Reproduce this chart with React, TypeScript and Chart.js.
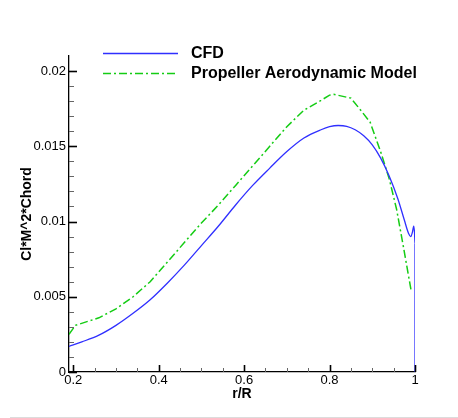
import React, { useEffect, useRef } from 'react';
import { Chart, registerables } from 'chart.js';

Chart.register(...registerables);

// ---- data ----
const seriesNames = ['CFD', 'Propeller Aerodynamic Model'];
const xTitle = 'r/R';
const yTitle = 'Cl*M^2*Chord';

const cfdR = [0.19, 0.22, 0.26, 0.30, 0.34, 0.38, 0.42, 0.46, 0.50, 0.54, 0.58, 0.62, 0.66, 0.70, 0.74, 0.78, 0.80, 0.82, 0.84, 0.86, 0.88, 0.90, 0.92, 0.94, 0.96, 0.975, 0.985, 0.99, 0.994, 0.997, 0.999, 1.0, 1.0];
const cfdVal = [0.0017, 0.0020, 0.00245, 0.0031, 0.0039, 0.0048, 0.0059, 0.0071, 0.0084, 0.0097, 0.0111, 0.0124, 0.01355, 0.01465, 0.01555, 0.0161, 0.0163, 0.01638, 0.01633, 0.0161, 0.0157, 0.0151, 0.0142, 0.0130, 0.0115, 0.0101, 0.0092, 0.0090, 0.0093, 0.0097, 0.0092, 0.0085, 0.0];

const modelR = [0.19, 0.205, 0.26, 0.30, 0.34, 0.38, 0.42, 0.46, 0.50, 0.54, 0.58, 0.62, 0.66, 0.70, 0.74, 0.78, 0.80, 0.81, 0.85, 0.87, 0.895, 0.92, 0.94, 0.957, 0.973, 0.991];
const modelVal = [0.0025, 0.0031, 0.0036, 0.0042, 0.0050, 0.0060, 0.0073, 0.0086, 0.0099, 0.0111, 0.0124, 0.0137, 0.0150, 0.0163, 0.0174, 0.01805, 0.0184, 0.01845, 0.0182, 0.0175, 0.0166, 0.0146, 0.0128, 0.0108, 0.0083, 0.0054];

const xTickValues = [0.2, 0.4, 0.6, 0.8, 1.0];
const xTickLabels = ['0.2', '0.4', '0.6', '0.8', '1'];
const yTickValues = [0, 0.005, 0.01, 0.015, 0.02];
const yTickLabels = ['0', '0.005', '0.01', '0.015', '0.02'];
const xMinorStep = 0.05;
const yMinorStep = 0.001;

const FONT = '"Liberation Sans", Arial, Helvetica, sans-serif';
const BLUE = '#2f2fff';
const GREEN = '#14cc14';
const DASH = [8, 3, 2, 3];

const decorPlugin = {
  id: 'decor',
  afterDraw(chart: any) {
    const { ctx, chartArea, scales } = chart;
    const xs = scales.x;
    const ys = scales.y;
    ctx.save();
    // inward ticks on x axis
    const nx = Math.round((xTickValues[xTickValues.length - 1] - xTickValues[0]) / xMinorStep);
    for (let i = 0; i <= nx; i++) {
      const v = xTickValues[0] + i * xMinorStep;
      const major = i % 4 === 0;
      const px = Math.round(xs.getPixelForValue(v)) + 0.5;
      ctx.strokeStyle = major ? '#000' : '#666';
      ctx.lineWidth = major ? 1.6 : 1;
      ctx.beginPath();
      ctx.moveTo(px, chartArea.bottom);
      ctx.lineTo(px, chartArea.bottom - (major ? 7 : 4));
      ctx.stroke();
    }
    // inward ticks on y axis
    const ny = Math.round((yTickValues[yTickValues.length - 1] - yTickValues[0]) / yMinorStep);
    for (let i = 0; i <= ny; i++) {
      const v = yTickValues[0] + i * yMinorStep;
      const major = i % 5 === 0;
      const py = Math.round(ys.getPixelForValue(v)) + 0.5;
      ctx.strokeStyle = major ? '#000' : '#666';
      ctx.lineWidth = major ? 1.6 : 1;
      ctx.beginPath();
      ctx.moveTo(chartArea.left, py);
      ctx.lineTo(chartArea.left + (major ? 8 : 5), py);
      ctx.stroke();
    }
    // legend
    const items = chart.data.datasets;
    const rows = [53.5, 73.5];
    items.forEach((ds: any, i: number) => {
      const y = rows[i];
      ctx.strokeStyle = ds.borderColor;
      ctx.lineWidth = ds.borderWidth;
      ctx.setLineDash(ds.borderDash || []);
      ctx.beginPath();
      ctx.moveTo(103, y);
      ctx.lineTo(178, y);
      ctx.stroke();
      ctx.setLineDash([]);
      ctx.fillStyle = '#000';
      ctx.font = `bold 16px ${FONT}`;
      ctx.textBaseline = 'middle';
      ctx.textAlign = 'left';
      ctx.fillText(ds.label, 191, y);
    });
    // bottom frame line
    ctx.fillStyle = '#dcdcdc';
    ctx.fillRect(10, 417, 448, 1);
    ctx.restore();
  },
};

export default function App() {
  const ref = useRef<HTMLCanvasElement>(null);

  useEffect(() => {
    if (!ref.current) return;
    const chart = new Chart(ref.current, {
      type: 'line',
      data: {
        datasets: [
          {
            label: seriesNames[0],
            data: cfdR.map((r, i) => ({ x: r, y: cfdVal[i] })),
            borderColor: BLUE,
            borderWidth: 1.3,
            pointRadius: 0,
            cubicInterpolationMode: 'monotone',
            fill: false,
          },
          {
            label: seriesNames[1],
            data: modelR.map((r, i) => ({ x: r, y: modelVal[i] })),
            borderColor: GREEN,
            borderWidth: 1.5,
            borderDash: DASH,
            pointRadius: 0,
            tension: 0,
            fill: false,
          },
        ],
      },
      options: {
        responsive: false,
        animation: false,
        events: [],
        layout: { padding: { top: 56, right: 43, left: 0, bottom: 0 } },
        plugins: {
          legend: { display: false },
          tooltip: { enabled: false },
          title: { display: false },
        },
        scales: {
          x: {
            type: 'linear',
            min: 0.19,
            max: 1.0,
            afterBuildTicks: (s: any) => {
              s.ticks = xTickValues.map((v) => ({ value: v }));
            },
            afterFit: (s: any) => {
              s.height = 46;
            },
            grid: { display: false, drawTicks: false },
            border: { display: true, color: '#000', width: 1.3 },
            ticks: {
              autoSkip: false,
              maxRotation: 0,
              padding: 1,
              color: '#000',
              font: { family: FONT, size: 13 },
              callback: (_v: any, i: number) => xTickLabels[i],
            },
            title: {
              display: true,
              text: xTitle,
              color: '#000',
              font: { family: FONT, size: 14, weight: 'bold' },
              padding: { top: 0, bottom: 15.5 },
            },
          },
          y: {
            type: 'linear',
            min: 0,
            max: 0.021,
            afterBuildTicks: (s: any) => {
              s.ticks = yTickValues.map((v) => ({ value: v }));
            },
            afterFit: (s: any) => {
              s.width = 69;
            },
            grid: { display: false, drawTicks: false },
            border: { display: true, color: '#000', width: 1.3 },
            ticks: {
              autoSkip: false,
              padding: 3,
              color: '#000',
              font: { family: FONT, size: 13 },
              callback: (_v: any, i: number) => yTickLabels[i],
            },
            title: {
              display: true,
              text: yTitle,
              color: '#000',
              font: { family: FONT, size: 14, weight: 'bold' },
              padding: { top: 19, bottom: 0 },
            },
          },
        },
      },
      plugins: [decorPlugin],
    } as any);
    return () => chart.destroy();
  }, []);

  return (
    <div style={{ position: 'absolute', left: 0, top: 0, width: 458, height: 418, background: '#fff' }}>
      <canvas ref={ref} width={458} height={418} style={{ display: 'block', width: 458, height: 418 }} />
    </div>
  );
}
